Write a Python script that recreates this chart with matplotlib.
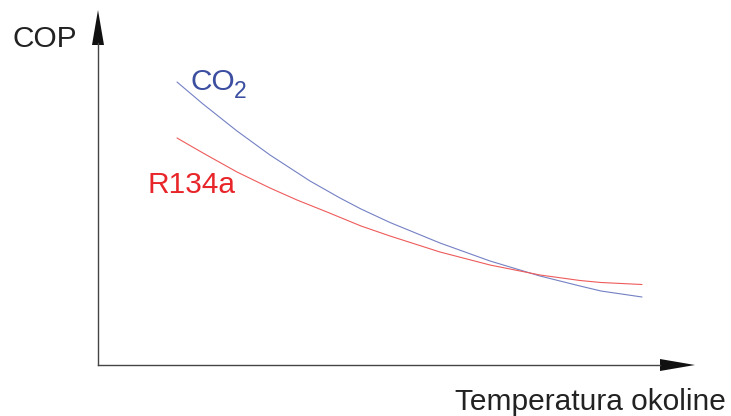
import matplotlib
matplotlib.use("Agg")
import matplotlib.pyplot as plt

plt.rcParams['font.family'] = ['Liberation Sans', 'DejaVu Sans']

# Data (arbitrary units: x grows right, y grows up)
co2_x = [79, 105, 139, 172, 212, 242, 263, 292, 342, 392, 442, 482, 503, 544]
co2_y = [283, 261, 234, 210, 184, 167, 156, 142.5, 122, 104, 89, 79, 74, 68]
r134a_x = [79, 105, 139, 172, 199, 229, 263, 292, 342, 392, 442, 482, 503, 544]
r134a_y = [227, 212, 193, 177, 165, 153, 139, 129, 113, 100, 90, 84.5, 82.5, 80.5]

x_label = "Temperatura okoline"
y_label = "COP"
co2_main, co2_sub = "CO", "2"
r134a_label = "R134a"

W, H = 731, 416
fig = plt.figure(figsize=(W / 100, H / 100), dpi=100)
ax = fig.add_axes([98 / W, (H - 365) / H, (695 - 98) / W, (365 - 10) / H])
ax.set_xlim(0, 597)
ax.set_ylim(0, 355)
ax.axis('off')

ax.plot(co2_x, co2_y, color='#7480c4', lw=0.8, solid_capstyle='round', solid_joinstyle='round')
ax.plot(r134a_x, r134a_y, color='#ee5b5b', lw=0.8, solid_capstyle='round', solid_joinstyle='round')

# axes with arrows
ax.plot([0, 562], [0, 0], color='#444444', lw=1.0, clip_on=False)
ax.plot([0, 0], [0, 322], color='#444444', lw=1.0, clip_on=False)
ax.fill([562, 597, 562], [-6, 0, 6], color='#111111', clip_on=False, lw=0)
ax.fill([-6, 0, 6], [320, 355, 320], color='#111111', clip_on=False, lw=0)

fs = 21.5
fig.text(12 / W, 1 - 47 / H, y_label, fontsize=fs, color='#222222', ha='left', va='baseline')
fig.text(455 / W, 1 - 410 / H, x_label, fontsize=fs, color='#222222', ha='left', va='baseline')
fig.text(190 / W, 1 - 90 / H, co2_main, fontsize=fs, color='#3b4ea0', ha='left', va='baseline')
fig.text(234 / W, 1 - 98 / H, co2_sub, fontsize=16.5, color='#3b4ea0', ha='left', va='baseline')
fig.text(148 / W, 1 - 193 / H, r134a_label, fontsize=fs, color='#e8262a', ha='left', va='baseline')

fig.savefig('out.png', dpi=100)
